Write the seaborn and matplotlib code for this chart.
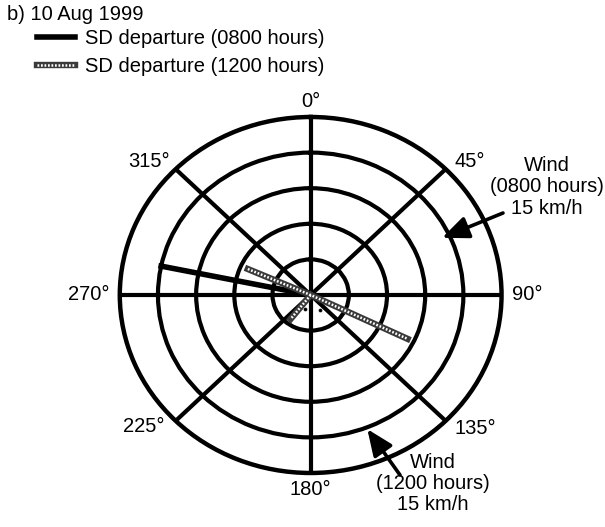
import numpy as np
import pandas as pd
import seaborn as sns
import matplotlib.pyplot as plt
from matplotlib.lines import Line2D

plt.rcParams['font.family'] = ['Liberation Sans', 'DejaVu Sans']
plt.rcParams['font.size'] = 14.5

# SD departure 0800 hours: bearing (deg) and length in ring units
sd0800_deg = [281.7, 0.0]
sd0800_r = [4.0, 0.0]

# SD departure 1200 hours: line through the centre plus a short stub
sd1200_deg = [293.9, 0.0, 115.9, 0.0, 217.9]
sd1200_r = [1.8, 0.0, 2.82, 0.0, 0.86]
sd1200_seg = [1, 1, 1, 2, 2]

# two small specks near the centre
dot_deg = [201, 151]
dot_r = [0.42, 0.48]

ring_r = [1, 2, 3, 4]
r_max = 5
spoke_deg = [0, 45, 90, 135, 180, 225, 270, 315]

df0 = pd.DataFrame({'theta': np.deg2rad(sd0800_deg), 'r': sd0800_r})
df1 = pd.DataFrame({'theta': np.deg2rad(sd1200_deg), 'r': sd1200_r, 'seg': sd1200_seg})
dfd = pd.DataFrame({'theta': np.deg2rad(dot_deg), 'r': dot_r})

fig = plt.figure(figsize=(6.05, 5.27), dpi=100)
ax = fig.add_axes([0.198, 0.1025, 0.631, 0.6755], projection='polar')
ax.set_aspect('auto')
ax.set_theta_zero_location('N')
ax.set_theta_direction(-1)
ax.set_rlim(0, r_max)
ax.set_rticks(ring_r)
ax.set_yticklabels([])
ax.set_xticks(np.deg2rad(spoke_deg))
ax.set_xticklabels([])
ax.tick_params(length=0)
ax.grid(True, color='black', lw=3.0)
ax.spines['polar'].set_linewidth(3.2)
ax.spines['polar'].set_color('black')

# 0800 departure
sns.lineplot(data=df0, x='theta', y='r', sort=False, estimator=None,
             color='black', lw=4.0, ax=ax, zorder=3)
# 1200 departure, checkered look
sns.lineplot(data=df1, x='theta', y='r', units='seg', sort=False, estimator=None,
             color='#3a3a3a', lw=4.6, ax=ax, zorder=3)
sns.lineplot(data=df1, x='theta', y='r', units='seg', sort=False, estimator=None,
             color='white', lw=1.8, linestyle=(0, (0.7, 0.7)), ax=ax, zorder=4)
sns.scatterplot(data=dfd, x='theta', y='r', color='black', s=8, ax=ax, zorder=4)
ax.set_xlabel('')
ax.set_ylabel('')

# compass labels
label_style = {
    0: ((0, 7.2), 'center', 'baseline'),
    45: ((6.5, 1.4), 'left', 'baseline'),
    90: ((7.2, 0), 'left', 'center'),
    135: ((6.5, 1.4), 'left', 'top'),
    180: ((0, -5), 'center', 'top'),
    225: ((-8, 3), 'right', 'top'),
    270: ((-7.2, 0), 'right', 'center'),
    315: ((-4.3, 1.4), 'right', 'baseline'),
}
for deg in spoke_deg:
    off, ha, va = label_style[deg]
    ax.annotate(f'{deg}°', xy=(np.deg2rad(deg), r_max), xytext=off,
                textcoords='offset points', ha=ha, va=va, annotation_clip=False)

# wind arrows
arrow_kw = dict(arrowstyle='-|>,head_length=0.8,head_width=0.34', lw=2.6,
                color='black', shrinkA=0, shrinkB=0, mutation_scale=20)
ax.annotate('', xy=(np.deg2rad(65), 3.8), xytext=(503, 314),
            textcoords='figure pixels', arrowprops=arrow_kw, annotation_clip=False)
ax.annotate('', xy=(np.deg2rad(158.5), 4.05), xytext=(400, 52),
            textcoords='figure pixels', arrowprops=arrow_kw, annotation_clip=False)
fig.text(547 / 605, 1 - 156 / 527, 'Wind\n(0800 hours)\n15 km/h',
         ha='center', va='top', linespacing=1.15, multialignment='center')
fig.text(433 / 605, 1 - 453 / 527, 'Wind\n(1200 hours)\n15 km/h',
         ha='center', va='top', linespacing=1.15, multialignment='center')

fig.text(7 / 605, 1 - 5 / 527, 'b) 10 Aug 1999', ha='left', va='top')

h0 = Line2D([], [], color='black', lw=4.0)
h1a = Line2D([], [], color='#3a3a3a', lw=4.6)
h1b = Line2D([], [], color='white', lw=1.8, linestyle=(0, (0.7, 0.7)))
fig.legend([h0, (h1a, h1b)], ['SD departure (0800 hours)', 'SD departure (1200 hours)'],
           loc='upper left', bbox_to_anchor=(37 / 605, 1 - 29 / 527), frameon=False,
           borderpad=0, borderaxespad=0, handlelength=1.9, handletextpad=0.5,
           labelspacing=0.45)

fig.savefig('out.png', dpi=100)
